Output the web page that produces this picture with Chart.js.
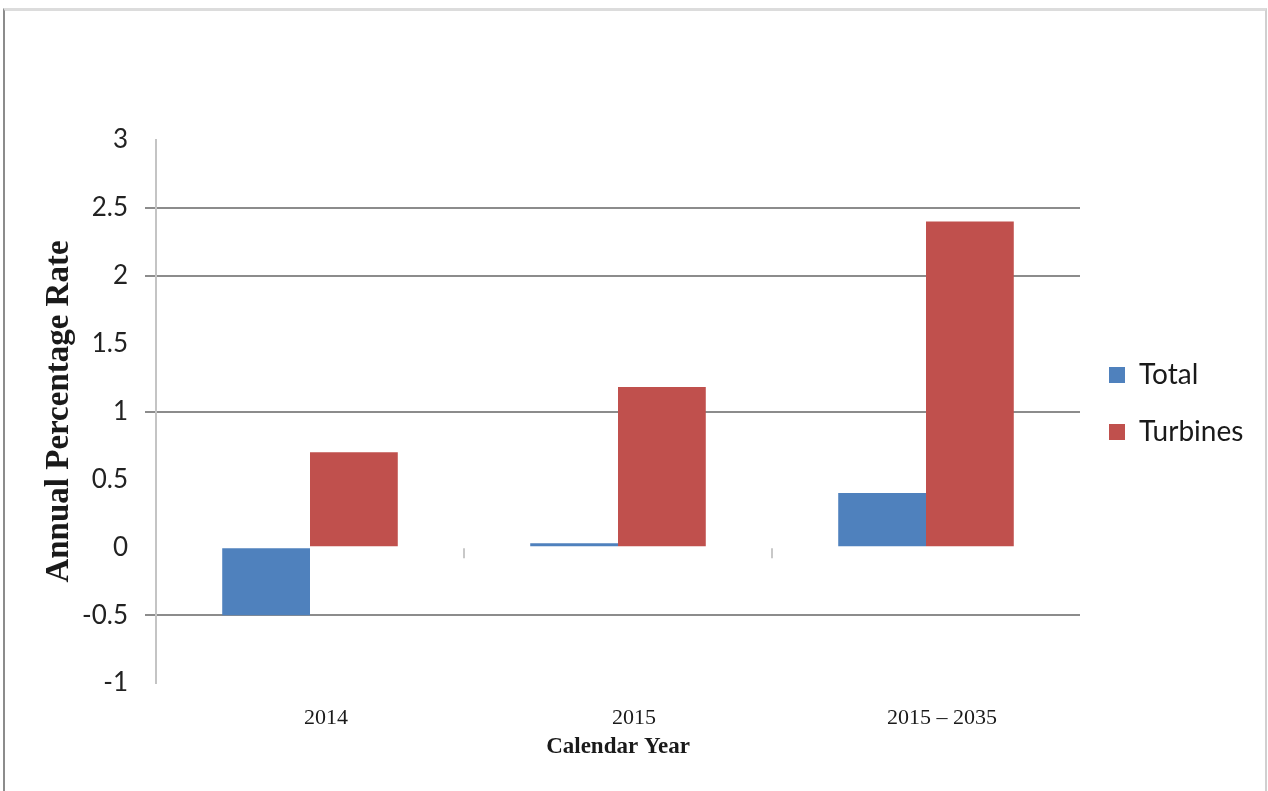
<!DOCTYPE html>
<html>
<head>
<meta charset="utf-8">
<script src="https://cdn.jsdelivr.net/npm/chart.js@4"></script>
<style>
  html, body { margin: 0; padding: 0; background: #fff; overflow: hidden; }
  #frame {
    position: absolute; left: 3px; top: 8px; width: 1260px; height: 820px;
    border-left: 2px solid #8c8c8c; border-top: 3px solid #dcdcdc; border-right: 2px solid #d0d0d0;
  }
  #wrap { position: absolute; left: 0; top: 0; width: 1268px; height: 791px; }
</style>
</head>
<body>
<div id="frame"></div>
<div id="wrap"><canvas id="myChart"></canvas></div>
<script>
// categories and series
var years = ['2014', '2015', '2015 \u2013 2035'];
var totalRate = [-0.5, 0.03, 0.4];
var turbineRate = [0.7, 1.18, 2.4];

// y axis range and the grid lines that are drawn
var yMin = -1, yMax = 3, yStep = 0.5;
var gridValues = [2.5, 2, 1, -0.5];

var serif = "'Liberation Serif', 'Times New Roman', serif";
var sans = "Lato, 'Open Sans', sans-serif";

function gridColor(ctx) {
    return gridValues.indexOf(ctx.tick.value) >= 0 ? '#8c8c8c' : 'rgba(0,0,0,0)';
}

// small marks under the zero line between the categories
var zeroTicks = {
    id: 'zeroTicks',
    afterDatasetsDraw: function (chart) {
        var x = chart.scales.x, y = chart.scales.y;
        var y0 = y.getPixelForValue(0);
        var c = chart.ctx;
        c.save();
        c.strokeStyle = '#c8c8c8';
        c.lineWidth = 2;
        for (var i = 0; i < years.length - 1; i++) {
            var px = Math.round(x.getPixelForValue(i + 0.5));
            c.beginPath();
            c.moveTo(px, y0 + 1);
            c.lineTo(px, y0 + 11);
            c.stroke();
        }
        c.restore();
    }
};

// fixed legend width and a lift of the legend block
var legendBox = {
    id: 'legendBox',
    beforeInit: function (chart) {
        var fit = chart.legend.fit;
        chart.legend.fit = function () {
            fit.bind(chart.legend)();
            this.width = 188;
        };
    },
    afterLayout: function (chart) {
        chart.legend.top -= 62;
        chart.legend.bottom -= 62;
    }
};

var ctx = document.getElementById('myChart');
var myChart = new Chart(ctx, {
    type: 'bar',
    data: {
        labels: years,
        datasets: [{
                label: 'Total',
                backgroundColor: '#4f81bd',
                data: totalRate
            }, {
                label: 'Turbines',
                backgroundColor: '#c0504d',
                data: turbineRate
            }
        ]
    },
    options: {
        responsive: true,
        maintainAspectRatio: false,
        animation: false,
        categoryPercentage: 0.57,
        barPercentage: 1.0,
        layout: {
            padding: {left: 28, top: 140, right: 0, bottom: 0}
        },
        scales: {
            x: {
                grid: {display: false, drawTicks: false},
                border: {display: false},
                ticks: {
                    padding: 22,
                    labelOffset: 16,
                    color: '#1a1a1a',
                    font: {family: serif, size: 22}
                },
                title: {
                    display: true,
                    text: 'Calendar Year',
                    color: '#1a1a1a',
                    font: {family: serif, size: 23, weight: 'bold'},
                    padding: {top: 0, bottom: 30}
                },
                afterFit: function (scale) { scale.height = 108; }
            },
            y: {
                min: yMin,
                max: yMax,
                ticks: {
                    stepSize: yStep,
                    padding: 17,
                    color: '#222',
                    font: {family: sans, size: 26},
                    callback: function (v) { return String(v); }
                },
                grid: {
                    color: gridColor,
                    lineWidth: 2,
                    tickLength: 11
                },
                border: {color: '#c4c4c4', width: 2},
                title: {
                    display: true,
                    text: 'Annual Percentage Rate',
                    color: '#1a1a1a',
                    font: {family: serif, size: 33, weight: 'bold'},
                    padding: {top: 12, bottom: 0}
                },
                afterFit: function (scale) { scale.width = 128; }
            }
        },
        plugins: {
            legend: {
                position: 'right',
                labels: {
                    boxWidth: 16,
                    boxHeight: 16,
                    padding: 29,
                    color: '#1a1a1a',
                    font: {family: sans, size: 28}
                }
            },
            tooltip: {enabled: false}
        }
    },
    plugins: [zeroTicks, legendBox]
});
</script>
</body>
</html>
